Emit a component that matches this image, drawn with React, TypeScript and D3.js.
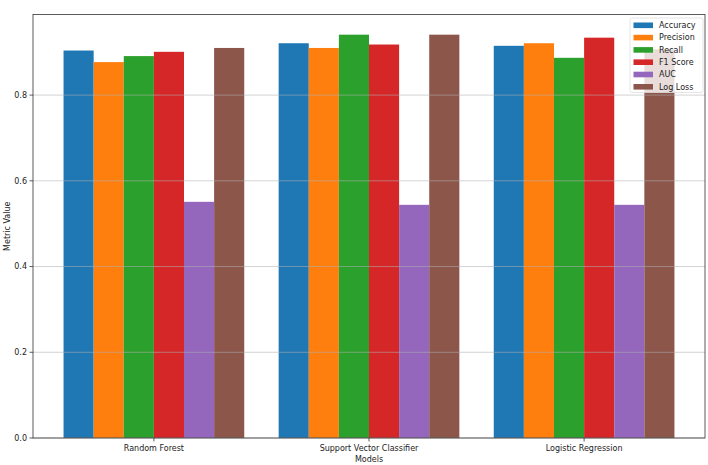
import React from "react";
import * as d3 from "d3";

const models = ["Random Forest", "Support Vector Classifier", "Logistic Regression"];
const metrics = ["Accuracy", "Precision", "Recall", "F1 Score", "AUC", "Log Loss"];
const colors = ["#1f77b4", "#ff7f0e", "#2ca02c", "#d62728", "#9467bd", "#8c564b"];

// values per model, in metric order
const randomForest = [0.904, 0.877, 0.891, 0.901, 0.551, 0.91];
const svc = [0.921, 0.91, 0.941, 0.918, 0.544, 0.941];
const logistic = [0.915, 0.921, 0.887, 0.934, 0.544, 0.907];
const values = [randomForest, svc, logistic];

const yTicks = [0, 0.2, 0.4, 0.6, 0.8];

const W = 708;
const H = 465;
const margin = { left: 33, right: 3, top: 14.5, bottom: 27 };
const barW = 0.14;

const App = () => {
  const x = d3
    .scaleLinear()
    .domain([-3 * barW - 0.142, 2 + 3 * barW + 0.142])
    .range([margin.left, W - margin.right]);
  const y = d3
    .scaleLinear()
    .domain([0, 0.941 * 1.05])
    .range([H - margin.bottom, margin.top]);

  const font = "DejaVu Sans, sans-serif";
  const y0 = y(0);

  return (
    <svg
      width={W}
      height={H}
      style={{ position: "absolute", left: 0, top: 0, background: "#fff" }}
      fontFamily={font}
    >
      {values.map((vals, gi) =>
        vals.map((v, mi) => {
          const left = x(gi - 3 * barW + mi * barW);
          const right = x(gi - 3 * barW + (mi + 1) * barW);
          return (
            <rect
              key={gi + "-" + mi}
              x={left}
              y={y(v)}
              width={right - left}
              height={y0 - y(v)}
              fill={colors[mi]}
            />
          );
        })
      )}
      {yTicks.map((t) => (
        <g key={t}>
          <line
            x1={margin.left}
            x2={W - margin.right}
            y1={y(t)}
            y2={y(t)}
            stroke="#b0b0b0"
            strokeOpacity={0.7}
            strokeWidth={0.8}
          />
          <line x1={margin.left - 3.5} x2={margin.left} y1={y(t)} y2={y(t)} stroke="#333" strokeWidth={0.8} />
          <text x={margin.left - 6} y={y(t)} dy="0.35em" textAnchor="end" fontSize={8} fill="#222">
            {t.toFixed(1)}
          </text>
        </g>
      ))}
      {models.map((m, i) => (
        <g key={m}>
          <line x1={x(i)} x2={x(i)} y1={y0} y2={y0 + 3.5} stroke="#333" strokeWidth={0.8} />
          <text x={x(i)} y={y0 + 13} textAnchor="middle" fontSize={8} fill="#222">
            {m}
          </text>
        </g>
      ))}
      <rect
        x={margin.left}
        y={margin.top}
        width={W - margin.right - margin.left}
        height={y0 - margin.top}
        fill="none"
        stroke="#333"
        strokeWidth={0.8}
      />
      <text x={(margin.left + W - margin.right) / 2} y={462} textAnchor="middle" fontSize={8} fill="#222">
        Models
      </text>
      <text
        transform={`translate(10,${(margin.top + y0) / 2}) rotate(-90)`}
        textAnchor="middle"
        fontSize={8}
        fill="#222"
      >
        Metric Value
      </text>
      <g transform="translate(630,18)">
        <rect x={0} y={0} width={73} height={74.5} rx={2} fill="#fff" fillOpacity={0.8} stroke="#ddd" strokeWidth={0.8} />
        {metrics.map((m, i) => (
          <g key={m} transform={`translate(0,${7.3 + i * 12.3})`}>
            <rect x={3.5} y={-2.8} width={19.5} height={5.6} fill={colors[i]} />
            <text x={29} y={0} dy="0.35em" fontSize={8} fill="#222">
              {m}
            </text>
          </g>
        ))}
      </g>
    </svg>
  );
};

export default App;
